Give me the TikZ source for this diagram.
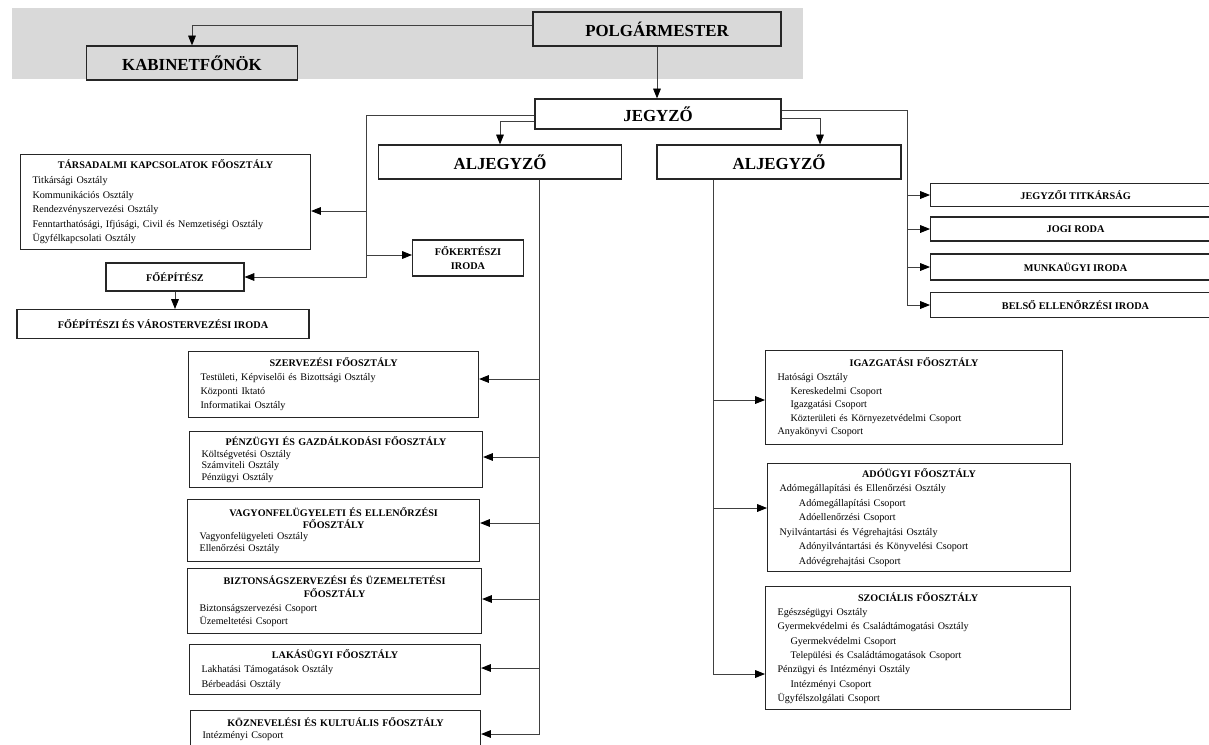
\documentclass[tikz,border=0pt]{standalone}
\usepackage{fontspec}
\setmainfont{Liberation Serif}
\usetikzlibrary{arrows.meta}
\newlength{\pxu}
\setlength{\pxu}{0.025cm}
\newcommand{\fohead}[1]{\makebox[\linewidth]{\bfseries #1}}
\newcommand{\inset}[1][13]{\hspace*{#1\pxu}}
\begin{document}
\begin{tikzpicture}[x=0.025cm, y=-0.025cm,
    chief/.style={draw=black!85, line width=0.9pt, inner sep=0pt,
      font=\fontsize{12}{14}\selectfont\bfseries},
    office/.style={draw=black!85, line width=0.8pt, inner sep=0pt, align=center,
      font=\fontsize{7.3}{9.6}\selectfont\bfseries},
    dept/.style={draw=black!85, line width=0.8pt, anchor=north west, align=left,
      inner xsep=12\pxu, inner ysep=0pt},
    rowskip/.style={font=\fontsize{7.2}{#1}\selectfont},
    link/.style={draw=black!75, line width=0.6pt,
      -{Triangle[length=7pt,width=5.5pt,color=black]}}]
  \useasboundingbox (0,0) rectangle (1209,744);
  \fill[black!15] (12,8) rectangle (803,79);

  \node[chief, minimum width=248\pxu, minimum height=34\pxu] (polg) at (657,29) {POLGÁRMESTER};
  \node[chief, minimum width=211\pxu, minimum height=34\pxu] (kabinet) at (192,63) {KABINETFŐNÖK};
  \node[chief, minimum width=246\pxu, minimum height=30\pxu] (jegyzo) at (658,114) {JEGYZŐ};
  \node[chief, minimum width=243\pxu, minimum height=34\pxu] (aljA) at (500,162) {ALJEGYZŐ};
  \node[chief, minimum width=244\pxu, minimum height=34\pxu] (aljB) at (779,162) {ALJEGYZŐ};

  \node[office, minimum width=138\pxu, minimum height=28\pxu] (foepitesz) at (175,277) {FŐÉPÍTÉSZ};
  \node[office, minimum width=292\pxu, minimum height=29\pxu] (foepiroda) at (163,324) {FŐÉPÍTÉSZI ÉS VÁROSTERVEZÉSI IRODA};
  \node[office, minimum width=111\pxu, minimum height=36\pxu] (fokert) at (468,258) {FŐKERTÉSZI\\IRODA};
  \node[office, anchor=west, minimum width=290\pxu, minimum height=23\pxu] (titkarsag) at (930,195) {JEGYZŐI TITKÁRSÁG};
  \node[office, anchor=west, minimum width=290\pxu, minimum height=24\pxu] (jogi) at (930,229) {JOGI RODA};
  \node[office, anchor=west, minimum width=290\pxu, minimum height=26\pxu] (munkaugy) at (930,267) {MUNKAÜGYI IRODA};
  \node[office, anchor=west, minimum width=290\pxu, minimum height=25\pxu] (belso) at (930,305) {BELSŐ ELLENŐRZÉSI IRODA};

  \node[dept, rowskip=10.4, text width=266\pxu, minimum height=95\pxu] (tarsadalmi) at (20,154)
    {\fohead{TÁRSADALMI KAPCSOLATOK FŐOSZTÁLY}\\ Titkársági Osztály\\ Kommunikációs Osztály\\
     Rendezvényszervezési Osztály\\ Fenntarthatósági, Ifjúsági, Civil és Nemzetiségi Osztály\\
     Ügyfélkapcsolati Osztály};
  \node[dept, rowskip=10, text width=266\pxu, minimum height=66\pxu] (szervezesi) at (188,351)
    {\fohead{SZERVEZÉSI FŐOSZTÁLY}\\ Testületi, Képviselői és Bizottsági Osztály\\
     Központi Iktató\\ Informatikai Osztály};
  \node[dept, rowskip=8.3, text width=269\pxu, minimum height=56\pxu] (penzugyi) at (189,431)
    {\fohead{PÉNZÜGYI ÉS GAZDÁLKODÁSI FŐOSZTÁLY}\\ Költségvetési Osztály\\ Számviteli Osztály\\
     Pénzügyi Osztály};
  \node[dept, rowskip=8.3, text width=268\pxu, minimum height=62\pxu] (vagyon) at (187,499)
    {\fohead{VAGYONFELÜGYELETI ÉS ELLENŐRZÉSI}\\ \fohead{FŐOSZTÁLY}\\ Vagyonfelügyeleti Osztály\\
     Ellenőrzési Osztály};
  \node[dept, rowskip=9.5, text width=270\pxu, minimum height=65\pxu] (biztonsag) at (187,568)
    {\fohead{BIZTONSÁGSZERVEZÉSI ÉS ÜZEMELTETÉSI}\\ \fohead{FŐOSZTÁLY}\\
     Biztonságszervezési Csoport\\ Üzemeltetési Csoport};
  \node[dept, rowskip=10.2, text width=267\pxu, minimum height=50\pxu] (lakas) at (189,644)
    {\fohead{LAKÁSÜGYI FŐOSZTÁLY}\\ Lakhatási Támogatások Osztály\\ Bérbeadási Osztály};
  \node[dept, rowskip=8.5, text width=266\pxu, minimum height=38\pxu] (kozneveles) at (190,710)
    {\fohead{KÖZNEVELÉSI ÉS KULTUÁLIS FŐOSZTÁLY}\\ Intézményi Csoport};

  \node[dept, rowskip=9.7, text width=273\pxu, minimum height=94\pxu] (igazgatasi) at (765,350)
    {\fohead{IGAZGATÁSI FŐOSZTÁLY}\\ Hatósági Osztály\\ \inset Kereskedelmi Csoport\\
     \inset Igazgatási Csoport\\ \inset Közterületi és Környezetvédelmi Csoport\\
     Anyakönyvi Csoport};
  \node[dept, rowskip=10.3, text width=279\pxu, minimum height=108\pxu] (adougyi) at (767,463)
    {\fohead{ADÓÜGYI FŐOSZTÁLY}\\ Adómegállapítási és Ellenőrzési Osztály\\
     \inset[16] Adómegállapítási Csoport\\ \inset[16] Adóellenőrzési Csoport\\
     Nyilvántartási és Végrehajtási Osztály\\ \inset[16] Adónyilvántartási és Könyvelési Csoport\\
     \inset[16] Adóvégrehajtási Csoport};
  \node[dept, rowskip=10.2, text width=281\pxu, minimum height=123\pxu] (szocialis) at (765,586)
    {\fohead{SZOCIÁLIS FŐOSZTÁLY}\\ Egészségügyi Osztály\\ Gyermekvédelmi és Családtámogatási Osztály\\
     \inset Gyermekvédelmi Csoport\\ \inset Települési és Családtámogatások Csoport\\
     Pénzügyi és Intézményi Osztály\\ \inset Intézményi Csoport\\ Ügyfélszolgálati Csoport};

  \coordinate (lspine) at (366,277);
  \coordinate (aspine) at (539,734);
  \coordinate (bspine) at (713,674);
  \coordinate (rspine) at (907,305);

  \begin{scope}[link]
    \draw (polg.west |- 0,25) -| (kabinet.north);
    \draw (polg.south) -- (polg.south |- jegyzo.north);
    \draw (jegyzo.west |- 0,115) -| (lspine) -- (lspine -| foepitesz.east);
    \draw (lspine |- 0,211) -- (tarsadalmi.east |- 0,211);
    \draw (lspine |- 0,255) -- (fokert.west |- 0,255);
    \draw (foepitesz.south) -- (foepitesz.south |- foepiroda.north);
    \draw (jegyzo.west |- 0,121) -| (aljA.north);
    \draw (jegyzo.east |- 0,118) -| (820,0 |- aljB.north);
    \draw (jegyzo.east |- 0,110) -| (rspine) -- (rspine -| belso.west);
    \draw (rspine |- titkarsag.west) -- (titkarsag.west);
    \draw (rspine |- jogi.west) -- (jogi.west);
    \draw (rspine |- munkaugy.west) -- (munkaugy.west);
    \draw (aljA.south -| aspine) -- (aspine) -- (aspine -| kozneveles.east);
    \draw (aspine |- 0,379) -- (szervezesi.east |- 0,379);
    \draw (aspine |- 0,457) -- (penzugyi.east |- 0,457);
    \draw (aspine |- 0,523) -- (vagyon.east |- 0,523);
    \draw (aspine |- 0,599) -- (biztonsag.east |- 0,599);
    \draw (aspine |- 0,668) -- (lakas.east |- 0,668);
    \draw (aljB.south -| bspine) -- (bspine) -- (bspine -| szocialis.west);
    \draw (bspine |- 0,400) -- (igazgatasi.west |- 0,400);
    \draw (bspine |- 0,508) -- (adougyi.west |- 0,508);
  \end{scope}
\end{tikzpicture}
\end{document}
